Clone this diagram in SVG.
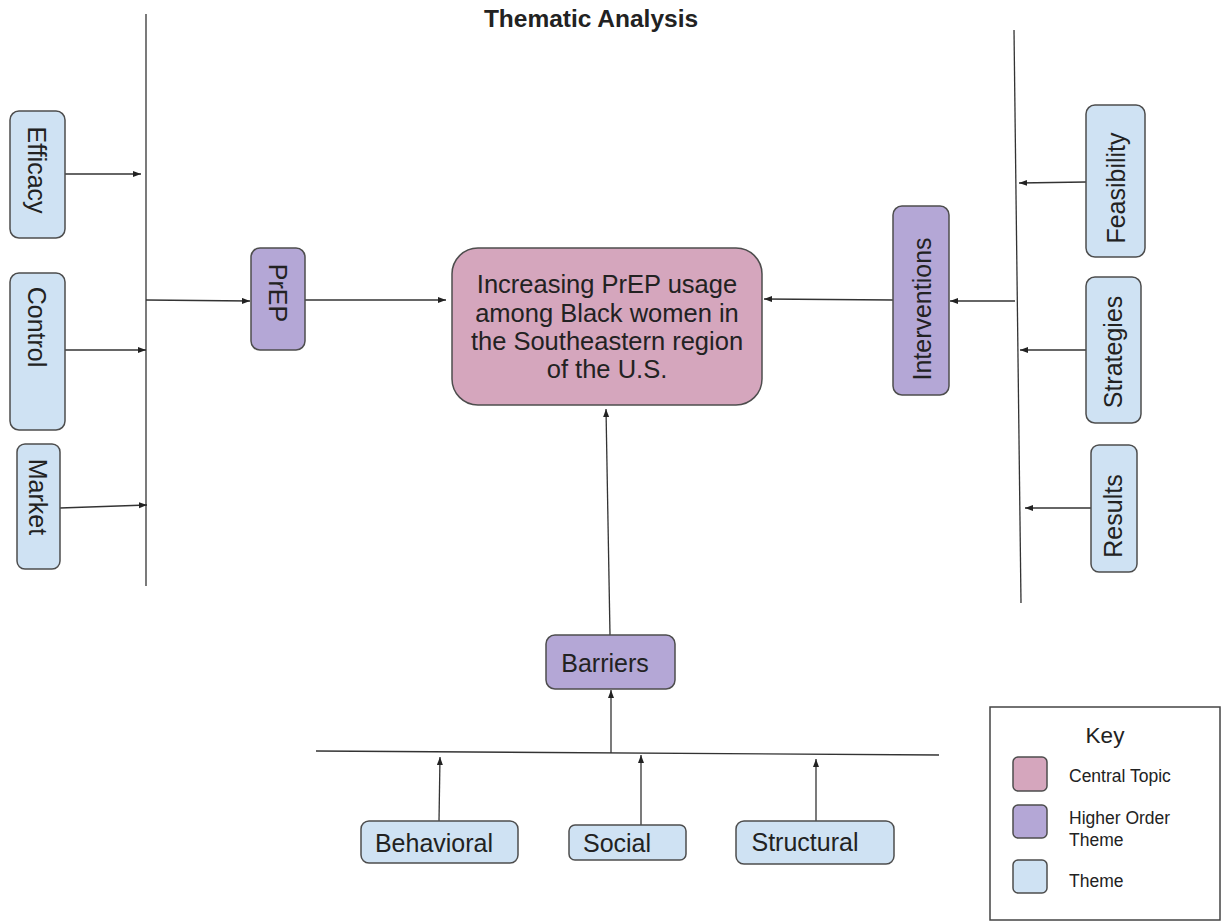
<svg xmlns="http://www.w3.org/2000/svg" width="1222" height="922" viewBox="0 0 1222 922">
<defs>
<marker id="ah" markerUnits="userSpaceOnUse" markerWidth="9" markerHeight="7" refX="8" refY="3" orient="auto">
<path d="M0,0 L8,3 L0,6 z" fill="#222"/>
</marker>
<style>
text{font-family:"Liberation Sans",Arial,sans-serif;fill:#222}
.box{stroke:#4d4d4d;stroke-width:1.5}
.theme{fill:#cfe2f3}
.higher{fill:#b4a7d6}
.central{fill:#d5a6bd}
.lbl{font-size:25px;text-anchor:middle}
.ctext{font-size:25.5px;text-anchor:middle}
.conn{stroke:#333;stroke-width:1.3;fill:none}
.arr{stroke:#333;stroke-width:1.3;fill:none;marker-end:url(#ah)}
.key{font-size:17.5px}
</style>
</defs>
<rect width="1222" height="922" fill="#fff"/>
<text x="591" y="27" font-size="24.5" font-weight="bold" text-anchor="middle">Thematic Analysis</text>

<g id="connectors">
<line class="conn" x1="146" y1="14" x2="146" y2="586"/>
<line class="conn" x1="1014" y1="30" x2="1021" y2="603"/>
<line class="conn" x1="316" y1="751" x2="939" y2="755"/>
<line class="arr" x1="65" y1="174" x2="141" y2="174"/>
<line class="arr" x1="65" y1="350" x2="146" y2="350"/>
<line class="arr" x1="60" y1="508" x2="147" y2="505"/>
<line class="arr" x1="146" y1="300" x2="250" y2="301"/>
<line class="arr" x1="305" y1="300" x2="446" y2="300"/>
<line class="arr" x1="1086" y1="182" x2="1019" y2="183"/>
<line class="arr" x1="1086" y1="350" x2="1020" y2="350"/>
<line class="arr" x1="1091" y1="508" x2="1025" y2="508"/>
<line class="arr" x1="1015" y1="301" x2="950" y2="301"/>
<line class="arr" x1="893" y1="300" x2="764" y2="299"/>
<line class="arr" x1="610" y1="635" x2="606" y2="409"/>
<line class="arr" x1="611" y1="753" x2="611" y2="690"/>
<line class="arr" x1="439" y1="821" x2="440" y2="757"/>
<line class="arr" x1="641" y1="825" x2="641" y2="755"/>
<line class="arr" x1="816" y1="821" x2="816" y2="759"/>
</g>

<g id="efficacy">
<rect class="box theme" x="10" y="111" width="55" height="127" rx="9"/>
<text class="lbl" transform="translate(28,170) rotate(90)">Efficacy</text>
</g>
<g id="control">
<rect class="box theme" x="10" y="273" width="55" height="157" rx="9"/>
<text class="lbl" transform="translate(28,327) rotate(90)">Control</text>
</g>
<g id="market">
<rect class="box theme" x="17" y="444" width="43" height="125" rx="8"/>
<text class="lbl" transform="translate(29,497) rotate(90)">Market</text>
</g>
<g id="prep">
<rect class="box higher" x="251" y="248" width="54" height="102" rx="9"/>
<text class="lbl" transform="translate(269,293) rotate(90)">PrEP</text>
</g>
<g id="central">
<rect class="box central" x="452" y="248" width="310" height="157" rx="26"/>
<text class="ctext" x="607" y="293">Increasing PrEP usage</text>
<text class="ctext" x="607" y="322">among Black women in</text>
<text class="ctext" x="607" y="350">the Southeastern region</text>
<text class="ctext" x="607" y="378">of the U.S.</text>
</g>
<g id="interventions">
<rect class="box higher" x="893" y="206" width="56" height="189" rx="9"/>
<text class="lbl" transform="translate(931,309) rotate(-90)">Interventions</text>
</g>
<g id="feasibility">
<rect class="box theme" x="1086" y="105" width="59" height="152" rx="9"/>
<text class="lbl" transform="translate(1125,188) rotate(-90)">Feasibility</text>
</g>
<g id="strategies">
<rect class="box theme" x="1086" y="277" width="55" height="146" rx="9"/>
<text class="lbl" transform="translate(1122,352) rotate(-90)">Strategies</text>
</g>
<g id="results">
<rect class="box theme" x="1091" y="445" width="46" height="127" rx="8"/>
<text class="lbl" transform="translate(1122,516) rotate(-90)">Results</text>
</g>
<g id="barriers">
<rect class="box higher" x="546" y="635" width="129" height="54" rx="9"/>
<text class="lbl" x="605" y="672">Barriers</text>
</g>
<g id="behavioral">
<rect class="box theme" x="361" y="821" width="157" height="42" rx="8"/>
<text class="lbl" x="434" y="852">Behavioral</text>
</g>
<g id="social">
<rect class="box theme" x="569" y="825" width="117" height="35" rx="6"/>
<text class="lbl" x="617" y="852">Social</text>
</g>
<g id="structural">
<rect class="box theme" x="736" y="821" width="158" height="43" rx="8"/>
<text class="lbl" x="805" y="851">Structural</text>
</g>

<g id="key">
<rect x="990" y="707" width="230" height="213" fill="#fff" stroke="#444" stroke-width="1.5"/>
<text x="1105" y="743" font-size="22.5" text-anchor="middle">Key</text>
<rect class="box central" x="1013" y="757" width="34" height="34" rx="5"/>
<rect class="box higher" x="1013" y="805" width="34" height="33" rx="5"/>
<rect class="box theme" x="1013" y="860" width="34" height="33" rx="5"/>
<text class="key" x="1069" y="782">Central Topic</text>
<text class="key" x="1069" y="824">Higher Order</text>
<text class="key" x="1069" y="846">Theme</text>
<text class="key" x="1069" y="887">Theme</text>
</g>
</svg>
